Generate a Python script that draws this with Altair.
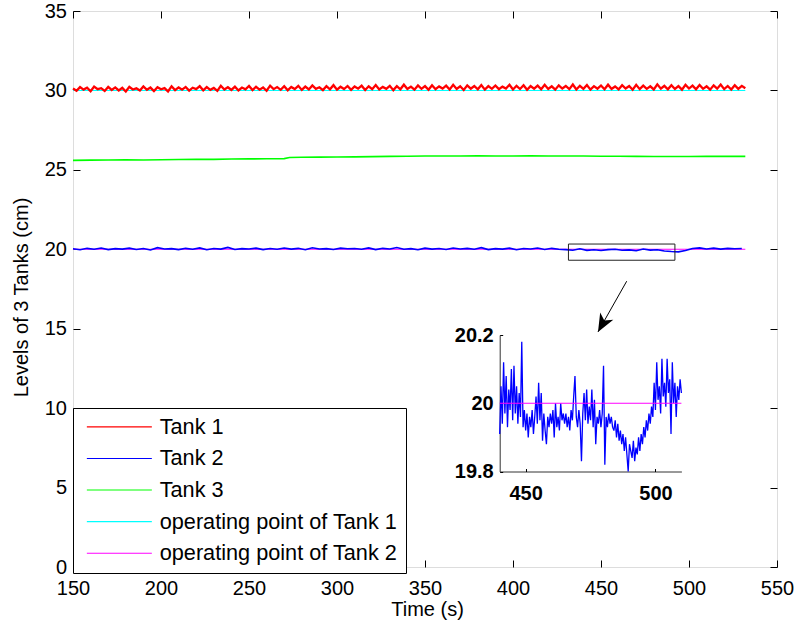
import altair as alt
import pandas as pd

FONT = "Liberation Sans"

# ---------------- data ----------------
series_names = ["Tank 1", "Tank 2", "Tank 3",
                "operating point of Tank 1", "operating point of Tank 2"]
series_colors = ["#ff0000", "#0000ff", "#00ff00", "#00ffff", "#ff00ff"]

# Tank 1 level (cm), one sample every 2 s starting at 150 s
tank1_t0, tank1_dt = 150, 2
tank1 = [
    30.12, 29.98, 30.21, 30.05, 30.17, 29.95, 30.24, 30.08, 30.14, 29.97, 30.22, 30.03, 30.19, 30.00, 30.16, 29.93,
    30.23, 30.06, 30.13, 29.99, 30.25, 30.04, 30.18, 29.96, 30.20, 30.07, 30.15, 29.94, 30.26, 30.02, 30.19, 30.05,
    30.22, 29.99, 30.17, 30.08, 30.27, 30.01, 30.21, 30.04, 30.16, 29.97, 30.29, 30.06, 30.20, 30.03, 30.24, 30.00,
    30.18, 30.07, 30.28, 30.02, 30.23, 30.05, 30.19, 29.98, 30.30, 30.08, 30.21, 30.04, 30.26, 30.01, 30.22, 30.09,
    30.29, 30.03, 30.24, 30.06, 30.31, 30.10, 30.20, 30.02, 30.27, 30.07, 30.33, 30.05, 30.23, 30.09, 30.28, 30.04,
    30.25, 30.11, 30.30, 30.03, 30.26, 30.08, 30.34, 30.06, 30.22, 30.10, 30.29, 30.02, 30.27, 30.07, 30.36, 30.09,
    30.24, 30.05, 30.31, 30.10, 30.27, 30.04, 30.33, 30.08, 30.25, 30.12, 30.30, 30.06, 30.35, 30.09, 30.26, 30.03,
    30.32, 30.11, 30.28, 30.07, 30.34, 30.05, 30.27, 30.10, 30.31, 30.08, 30.24, 30.12, 30.36, 30.06, 30.29, 30.09,
    30.33, 30.04, 30.27, 30.11, 30.30, 30.07, 30.35, 30.09, 30.26, 30.05, 30.32, 30.12, 30.28, 30.08, 30.37, 30.06,
    30.29, 30.10, 30.34, 30.05, 30.27, 30.11, 30.31, 30.07, 30.36, 30.09, 30.25, 30.06, 30.33, 30.12, 30.28, 30.04,
    30.35, 30.08, 30.30, 30.10, 30.26, 30.06, 30.38, 30.11, 30.29, 30.07, 30.33, 30.09, 30.27, 30.05, 30.36, 30.12,
    30.30, 30.07, 30.34, 30.10, 30.26, 30.05, 30.32, 30.11, 30.37, 30.08, 30.28, 30.06, 30.33, 30.10, 30.29, 30.14,
]

# Tank 2 level (cm), one sample every 4 s starting at 150 s
tank2_t0, tank2_dt = 150, 4
tank2 = [
    20.03, 19.97, 20.06, 20.00, 20.08, 19.98, 20.04, 20.01,
    20.07, 19.99, 20.05, 19.96, 20.10, 20.02, 20.04, 19.98,
    20.06, 20.00, 20.09, 19.97, 20.05, 20.01, 20.12, 19.99,
    20.04, 20.02, 20.07, 19.98, 20.05, 20.00, 20.08, 20.01,
    20.06, 19.97, 20.10, 20.02, 20.04, 19.99, 20.07, 20.03,
    20.05, 20.00, 20.09, 19.98, 20.06, 20.02, 20.11, 20.00,
    20.04, 19.97, 20.07, 20.01, 20.05, 19.99, 20.08, 20.02,
    20.06, 20.00, 20.10, 19.98, 20.04, 20.01, 20.07, 19.97,
    20.05, 20.02, 20.08, 19.99, 20.06, 20.00, 19.98, 19.94,
    20.03, 19.93, 19.97, 19.92, 19.98, 20.00, 19.94, 19.96,
    19.91, 20.02, 19.95, 19.97, 19.89, 19.86, 19.84, 19.92,
    20.05, 20.09, 20.02, 20.07, 20.01, 20.06, 20.03, 20.05,
]

# Tank 3 level (cm)
tank3_t = [150, 160, 170, 180, 190, 200, 210, 220, 230, 240, 250, 260, 270, 273, 280, 290,
           300, 310, 320, 330, 340, 350, 360, 370, 380, 390, 400, 410, 420, 430, 440, 450,
           460, 470, 480, 490, 500, 510, 520, 532]
tank3 = [25.60, 25.61, 25.62, 25.63, 25.62, 25.64, 25.65, 25.66, 25.66, 25.68, 25.69, 25.70, 25.71, 25.78, 25.79, 25.80,
         25.81, 25.82, 25.83, 25.85, 25.86, 25.87, 25.87, 25.87, 25.88, 25.87, 25.87, 25.88, 25.87, 25.87, 25.87, 25.86,
         25.86, 25.85, 25.84, 25.84, 25.84, 25.85, 25.85, 25.85]

# operating points (cm)
op_t = [150, 532]
op1_level = 30.0
op2_level = 20.0

# zoomed Tank 2 shown in the inset, one sample every 0.5 s from 440 s
zoom_t0, zoom_dt = 440, 0.5
tank2_zoom = [
    19.91, 20.05, 19.94, 20.12, 19.97, 20.08, 19.93, 20.04, 19.98, 20.10,
    19.95, 20.11, 19.97, 20.05, 19.94, 20.03, 19.96, 20.18, 19.93, 19.98,
    19.92, 19.97, 19.90, 19.96, 19.93, 19.98, 19.91, 19.96, 20.02, 19.94,
    20.06, 19.95, 20.03, 19.89, 19.97, 19.92, 19.88, 19.96, 19.93, 19.97,
    19.94, 19.98, 19.90, 20.00, 19.93, 19.96, 19.92, 20.00, 19.95, 19.97,
    19.94, 19.97, 19.93, 19.96, 19.92, 19.98, 19.95, 20.02, 20.08, 19.96,
    19.93, 19.98, 19.94, 19.83, 19.97, 20.03, 19.95, 20.04, 19.94, 19.99,
    19.95, 20.04, 19.93, 20.01, 19.88, 19.96, 19.94, 19.98, 19.93, 19.97,
    20.11, 19.82, 19.96, 19.93, 19.97, 19.94, 19.96, 19.93, 19.92, 19.95,
    19.90, 19.94, 19.89, 19.92, 19.88, 19.91, 19.86, 19.90, 19.85, 19.80,
    19.88, 19.86, 19.84, 19.89, 19.83, 19.87, 19.85, 19.90, 19.86, 19.91,
    19.88, 19.93, 19.90, 19.95, 19.92, 19.97, 19.94, 19.99, 19.96, 20.06,
    19.98, 20.12, 20.01, 20.05, 19.97, 20.13, 20.02, 20.06, 19.99, 20.13,
    20.03, 20.07, 19.91, 20.12, 20.00, 20.06, 19.96, 20.05, 20.01, 20.07,
    20.03,
]
inset_t_range = [440, 510]
inset_v_range = [19.8, 20.2]

# annotation rectangle and arrow (data coordinates)
box_t = [431.5, 492.0]
box_v = [19.31, 20.33]
arrow_t = [464.6, 448.3]
arrow_v = [17.99, 14.80]

x_ticks = [150, 200, 250, 300, 350, 400, 450, 500, 550]
y_ticks = [0, 5, 10, 15, 20, 25, 30, 35]
inset_x_ticks = [450, 500]
inset_y_ticks = [19.8, 20.0, 20.2]

# ---------------- layout constants ----------------
W, H = 704, 556
INSET_L, INSET_R = 426.7, 608.4
INSET_B, INSET_T = 460.5, 324.0

# ---------------- tables ----------------
df_op = pd.DataFrame({"t": op_t + op_t,
                      "v": [op1_level, op1_level, op2_level, op2_level],
                      "series": [series_names[3]] * 2 + [series_names[4]] * 2})
df_t1 = pd.DataFrame({"t": [tank1_t0 + tank1_dt * i for i in range(len(tank1))],
                      "v": tank1, "series": series_names[0]})
df_t2 = pd.DataFrame({"t": [tank2_t0 + tank2_dt * i for i in range(len(tank2))],
                      "v": tank2, "series": series_names[1]})
df_t3 = pd.DataFrame({"t": tank3_t, "v": tank3, "series": series_names[2]})

df_zoom = pd.DataFrame({"t": [zoom_t0 + zoom_dt * i for i in range(len(tank2_zoom))],
                        "v": tank2_zoom})
df_inset_op = pd.DataFrame({"t": inset_t_range, "v": [op2_level, op2_level]})
df_box = pd.DataFrame({"t0": [box_t[0]], "t1": [box_t[1]], "v0": [box_v[0]], "v1": [box_v[1]]})
df_arrow = pd.DataFrame({"t0": [arrow_t[0]], "t1": [arrow_t[1]],
                         "v0": [arrow_v[0]], "v1": [arrow_v[1]]})
df_head = pd.DataFrame({"t": [arrow_t[1]], "v": [arrow_v[1]]})

xs_main = alt.Scale(domain=[150, 550], nice=False, zero=False)
ys_main = alt.Scale(domain=[0, 35], nice=False, zero=False)
xs_in = alt.Scale(domain=inset_t_range, range=[INSET_L, INSET_R], nice=False, zero=False)
ys_in = alt.Scale(domain=inset_v_range, range=[INSET_B, INSET_T], nice=False, zero=False)

txt = dict(labelFont=FONT, titleFont=FONT, labelColor="black", titleColor="black",
           titleFontWeight="normal", labelFlush=False)
tick_axis = dict(labels=False, ticks=True, tickSize=7, tickColor="black", tickWidth=1,
                 domain=False, grid=False, title=None)

# ---------------- main curves ----------------
X_MAIN = alt.X("t:Q", scale=xs_main,
               axis=alt.Axis(values=x_ticks, ticks=False, tickSize=0, labelPadding=11,
                             labelFontSize=20, titleFontSize=20,
                             domain=False, grid=False, title="Time (s)",
                             titleX=354, titleY=48, titleBaseline="alphabetic",
                             titleAnchor="middle", titleAlign="center", **txt))
Y_MAIN = alt.Y("v:Q", scale=ys_main,
               axis=alt.Axis(values=y_ticks, ticks=False, tickSize=0, labelPadding=6.5,
                             labelFontSize=20, titleFontSize=20,
                             domain=False, grid=False, title="Levels of 3 Tanks (cm)",
                             titleX=-45.5, titleY=286, titleBaseline="alphabetic",
                             titleAngle=270, titleAlign="center", **txt))
COLOR_SCALE = alt.Scale(domain=series_names, range=series_colors)
LEGEND = alt.Legend(title=None, orient="none", legendX=0, legendY=397,
                    direction="vertical", symbolType="M-1,0H12",
                    symbolSize=100, symbolStrokeWidth=1.1,
                    labelFont=FONT, labelFontSize=21.7, labelColor="black",
                    labelOffset=57, labelLimit=400, padding=8,
                    rowPadding=8.6, strokeColor="black", fillColor="white")


def series_layer(df, width, legend):
    return alt.Chart(df).mark_line(strokeWidth=width).encode(
        x=X_MAIN, y=Y_MAIN,
        color=alt.Color("series:N", scale=COLOR_SCALE, legend=legend))


main = alt.layer(
    series_layer(df_op, 1.1, LEGEND),
    series_layer(df_t3, 1.6, None),
    series_layer(df_t1, 2.3, None),
    series_layer(df_t2, 1.6, None),
)

# zoom rectangle (also carries inward ticks on bottom and left)
box = alt.Chart(df_box).mark_rect(fill="white", fillOpacity=0, stroke="#222222",
                                  strokeWidth=1).encode(
    x=alt.X("t0:Q", scale=xs_main, axis=alt.Axis(orient="top", offset=-H, values=x_ticks, **tick_axis)),
    x2="t1:Q",
    y=alt.Y("v0:Q", scale=ys_main, axis=alt.Axis(orient="right", offset=-W, values=y_ticks, **tick_axis)),
    y2="v1:Q",
)

# arrow shaft (also carries inward ticks on top and right)
arrow = alt.Chart(df_arrow).mark_rule(color="black", strokeWidth=1).encode(
    x=alt.X("t0:Q", scale=xs_main, axis=alt.Axis(orient="bottom", offset=-H, values=x_ticks, **tick_axis)),
    x2="t1:Q",
    y=alt.Y("v0:Q", scale=ys_main, axis=alt.Axis(orient="left", offset=-W, values=y_ticks, **tick_axis)),
    y2="v1:Q",
)

head = alt.Chart(df_head).mark_point(
    shape="M0,0L-0.75,-1.8L0,-1.3L0.75,-1.8Z", filled=True, color="black",
    opacity=1, size=400, angle=29).encode(
    x=alt.X("t:Q", scale=xs_main, axis=None),
    y=alt.Y("v:Q", scale=ys_main, axis=None),
)

# ---------------- inset ----------------
inset_line = alt.Chart(df_zoom).mark_line(color="#0000ff", strokeWidth=1.3).encode(
    x=alt.X("t:Q", scale=xs_in,
            axis=alt.Axis(orient="bottom", offset=-(H - INSET_B), values=inset_x_ticks,
                          ticks=False, tickSize=0, labelPadding=12, domain=True,
                          domainColor="#333333", domainWidth=1, grid=False, title=None,
                          labelFontWeight="bold", labelFontSize=20, **txt)),
    y=alt.Y("v:Q", scale=ys_in,
            axis=alt.Axis(orient="left", offset=-INSET_L, values=inset_y_ticks, format="~g",
                          ticks=False, tickSize=0, labelPadding=6.5, domain=True,
                          domainColor="#333333", domainWidth=1, grid=False, title=None,
                          labelFontWeight="bold", labelFontSize=20, **txt)),
)

inset_op = alt.Chart(df_inset_op).mark_line(color="#ff00ff", strokeWidth=1).encode(
    x=alt.X("t:Q", scale=xs_in,
            axis=alt.Axis(orient="top", offset=-INSET_B, values=inset_x_ticks, labels=False,
                          tickSize=3, tickColor="black", domain=False, grid=False, title=None)),
    y=alt.Y("v:Q", scale=ys_in,
            axis=alt.Axis(orient="right", offset=-(W - INSET_L), values=inset_y_ticks,
                          labels=False, tickSize=3, tickColor="black", domain=False,
                          grid=False, title=None)),
)

chart = alt.layer(main, box, arrow, head, inset_line, inset_op).resolve_scale(
    x="independent", y="independent"
).properties(
    width=W, height=H,
    padding={"left": 73, "top": 11, "right": 21, "bottom": 63},
    autosize=alt.AutoSizeParams(type="none"),
).configure_view(
    stroke="black", strokeWidth=1.3
).configure(background="white")

chart.save("out.html", embed_options={"renderer": "svg", "actions": False})
